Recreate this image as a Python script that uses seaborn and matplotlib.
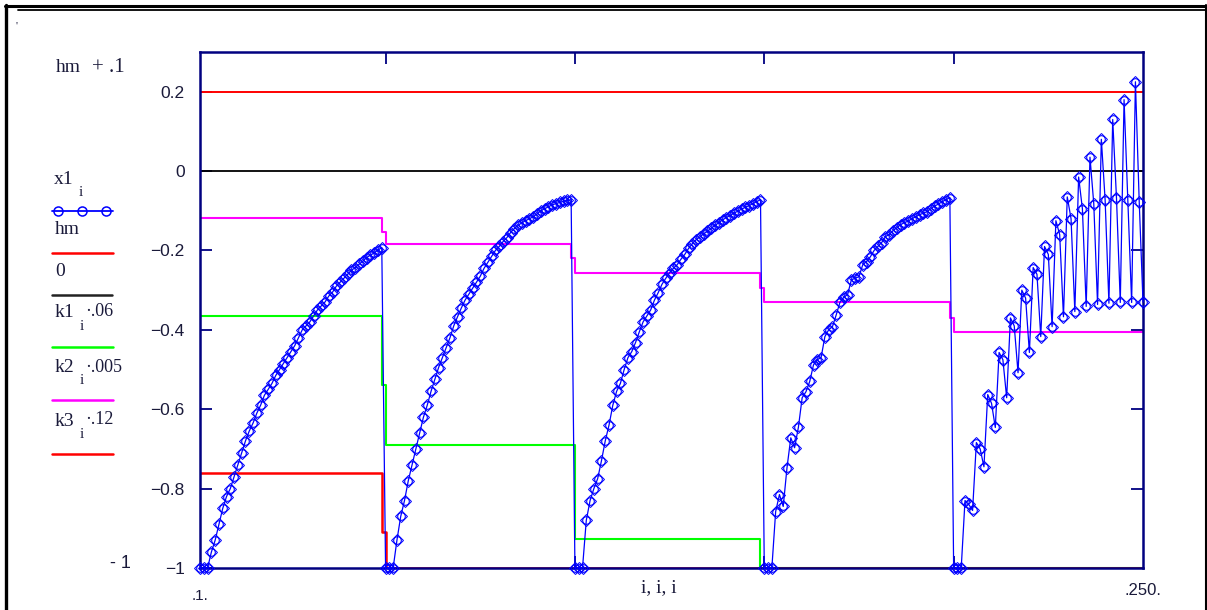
import numpy as np
import pandas as pd
import matplotlib
matplotlib.use("Agg")
import matplotlib.pyplot as plt
from matplotlib.lines import Line2D
import seaborn as sns

# ---------------- data ----------------
# x1_i, one value per i, segment by segment
x1_seg1 = [-1.0, -1.0, -1.0, -0.96, -0.93, -0.89, -0.85, -0.82, -0.80, -0.77,
           -0.74, -0.71, -0.68, -0.655, -0.635, -0.61, -0.59, -0.565, -0.55, -0.535,
           -0.515, -0.50, -0.485, -0.47, -0.455, -0.44, -0.42, -0.40, -0.39, -0.38,
           -0.365, -0.35, -0.34, -0.33, -0.315, -0.305, -0.29, -0.28, -0.27, -0.26,
           -0.25, -0.243, -0.235, -0.227, -0.218, -0.212, -0.206, -0.199, -0.193]
x1_seg2 = [-1.0, -1.0, -1.0, -0.93, -0.87, -0.83, -0.78, -0.74, -0.70, -0.66,
           -0.62, -0.59, -0.555, -0.525, -0.495, -0.47, -0.445, -0.42, -0.39, -0.367,
           -0.345, -0.325, -0.31, -0.295, -0.28, -0.265, -0.245, -0.23, -0.215, -0.20,
           -0.19, -0.178, -0.168, -0.155, -0.145, -0.137, -0.13, -0.125, -0.12, -0.115,
           -0.108, -0.10, -0.095, -0.09, -0.085, -0.082, -0.079, -0.076, -0.074, -0.072]
x1_seg3 = [-1.0, -1.0, -1.0, -0.88, -0.83, -0.80, -0.775, -0.73, -0.68, -0.64,
           -0.59, -0.555, -0.535, -0.50, -0.47, -0.455, -0.432, -0.405, -0.38, -0.365,
           -0.35, -0.325, -0.306, -0.285, -0.27, -0.256, -0.245, -0.236, -0.222, -0.21,
           -0.195, -0.183, -0.173, -0.166, -0.158, -0.152, -0.144, -0.137, -0.13, -0.123,
           -0.117, -0.112, -0.106, -0.101, -0.096, -0.091, -0.087, -0.082, -0.077, -0.072]
x1_seg4 = [-1.0, -1.0, -1.0, -0.858, -0.815, -0.845, -0.747, -0.672, -0.697, -0.646,
           -0.571, -0.556, -0.53, -0.488, -0.475, -0.47, -0.417, -0.40, -0.392, -0.362,
           -0.33, -0.318, -0.311, -0.274, -0.27, -0.266, -0.236, -0.228, -0.216, -0.20,
           -0.19, -0.18, -0.165, -0.16, -0.15, -0.143, -0.135, -0.13, -0.126, -0.12,
           -0.115, -0.11, -0.106, -0.102, -0.095, -0.088, -0.083, -0.077, -0.072, -0.067]
x1_seg5_start = [-1.0, -1.0, -1.0]
x1_seg5_upper = [-0.83, -0.684, -0.563, -0.457, -0.37, -0.30, -0.243, -0.19,
                 -0.125, -0.065, -0.015, 0.035, 0.08, 0.13, 0.18, 0.225]
x1_seg5_middle = [-0.84, -0.70, -0.585, -0.475, -0.39, -0.32, -0.26, -0.21,
                  -0.16, -0.12, -0.095, -0.082, -0.073, -0.068, -0.072, -0.077]
x1_seg5_lower = [-0.855, -0.745, -0.646, -0.571, -0.508, -0.457, -0.417, -0.392,
                 -0.367, -0.354, -0.341, -0.336, -0.333, -0.331, -0.331, -0.330]

hm_value = 0.2
zero_value = 0.0
# step functions: level per segment, and the single in-between value at each jump
k1_levels = [-0.365, -0.69, -0.928, -1.0, -1.0]
k1_jumps = [-0.54, -0.69, -1.0, -1.0]
k2_levels = [-0.117, -0.184, -0.256, -0.329, -0.405]
k2_jumps = [-0.153, -0.22, -0.294, -0.369]
k3_levels = [-0.76, -1.0, -1.0, -1.0, -1.0]
k3_jumps = [-0.91, -1.0, -1.0, -1.0]
step_counts = [48, 49, 49, 49, 51]

y_ticks = [0.2, 0.0, -0.2, -0.4, -0.6, -0.8, -1.0]
y_tick_labels = ["0.2", "0", "\u22120.2", "\u22120.4", "\u22120.6", "\u22120.8", "\u22121"]
x_ticks = [50, 100, 150, 200]
i_first, i_last = 1, 250

# ---------------- build series ----------------
seg5 = list(x1_seg5_start)
for u, m, l in zip(x1_seg5_upper, x1_seg5_middle, x1_seg5_lower):
    seg5 += [u, m, l]
x1 = np.array(x1_seg1 + x1_seg2 + x1_seg3 + x1_seg4 + seg5)
i_vals = np.arange(i_first, i_first + len(x1))


def build_steps(levels, jumps):
    out = []
    for s, n in enumerate(step_counts):
        out += [levels[s]] * n
        if s < len(jumps):
            out.append(jumps[s])
    return np.array(out)


k1 = build_steps(k1_levels, k1_jumps)
k2 = build_steps(k2_levels, k2_jumps)
k3 = build_steps(k3_levels, k3_jumps)
df = pd.DataFrame({"i": i_vals, "x1": x1, "hm": hm_value, "zero": zero_value,
                   "k1": k1, "k2": k2, "k3": k3})

# ---------------- figure ----------------
sns.set_style("white")
plt.rcParams["font.family"] = ["Liberation Serif", "DejaVu Serif"]
W, H = 1207, 610
fig = plt.figure(figsize=(W / 100, H / 100), dpi=100)
fig.patch.set_facecolor("white")
L, R, T, B = 200, 1143, 52, 568
ax = fig.add_axes([L / W, 1 - B / H, (R - L) / W, (B - T) / H])
ax.set_facecolor("white")

BLUE = "#0000FF"
NAVY = "#000080"
RED = "#FF0000"
GREEN = "#00FF00"
MAG = "#FF00FF"
TXT = "#1a1a3a"

sns.lineplot(data=df, x="i", y="hm", ax=ax, color=RED, lw=1.4, estimator=None, sort=False)
sns.lineplot(data=df, x="i", y="zero", ax=ax, color="black", lw=1.3, estimator=None, sort=False)
sns.lineplot(data=df, x="i", y="k1", ax=ax, color=GREEN, lw=1.5, drawstyle="steps-post",
             estimator=None, sort=False)
sns.lineplot(data=df, x="i", y="k2", ax=ax, color=MAG, lw=1.5, drawstyle="steps-post",
             estimator=None, sort=False)
sns.lineplot(data=df, x="i", y="k3", ax=ax, color=RED, lw=1.8, drawstyle="steps-post",
             estimator=None, sort=False)
sns.lineplot(data=df, x="i", y="x1", ax=ax, color=BLUE, lw=0.9, estimator=None, sort=False,
             marker="o", markersize=5.5, markerfacecolor="none", markeredgecolor=BLUE,
             markeredgewidth=0.8, clip_on=False, zorder=3)
sns.lineplot(data=df, x="i", y="x1", ax=ax, color=BLUE, lw=0, estimator=None, sort=False,
             marker="D", markersize=6, markerfacecolor="none", markeredgecolor=BLUE,
             markeredgewidth=0.7, clip_on=False, zorder=3)

ax.set_xlim(i_first, i_last)
ax.set_ylim(-1.0, 0.3)
ax.set_xlabel("")
ax.set_ylabel("")
for sp in ax.spines.values():
    sp.set_visible(True)
    sp.set_color(NAVY)
    sp.set_linewidth(1.8)
    sp.set_zorder(2.6)

ax.set_yticks(y_ticks)
ax.set_yticklabels(y_tick_labels, family=["Liberation Sans", "DejaVu Sans"], fontsize=12.5,
                   color=TXT)
ax.set_xticks(x_ticks)
ax.set_xticklabels([])
ax.tick_params(axis="both", direction="in", length=8.5, width=1.3, color=NAVY,
               left=True, right=True, top=True, bottom=True)
ax.tick_params(axis="y", pad=11)
ax.grid(False)

xt = ax.get_xaxis_transform()
ax.text(i_first, -0.04, ".1.", transform=xt, ha="center", va="top", fontsize=11,
        color=TXT, family=["Liberation Sans", "DejaVu Sans"])
ax.text(i_last, -0.03, ".250.", transform=xt, ha="center", va="top", fontsize=12,
        color=TXT, family=["Liberation Sans", "DejaVu Sans"])
ax.text(0.487, -0.022, "i, i, i", transform=ax.transAxes, ha="center", va="top",
        fontsize=14, color=TXT)


def fx(x):
    return x / W


def fy(y):
    return 1 - y / H


def ftext(x, y, s, size=14, **kw):
    fig.text(fx(x), fy(y), s, fontsize=size, color=TXT, va="center", ha="left", **kw)


def fline(x0, x1_, y, color, lw=1.8, **kw):
    fig.add_artist(Line2D([fx(x0), fx(x1_)], [fy(y), fy(y)], color=color, lw=lw,
                          transform=fig.transFigure, **kw))


# y-axis expression labels (Mathcad style legend)
ftext(56, 67, "hm")
ftext(92, 68, "+ .1", size=15)
ftext(16, 26, "'", size=8)

ftext(54, 180, "x1")
ftext(79, 192, "i", size=11)
fline(52, 113, 211, BLUE, lw=1.3)
for mx in (58, 82, 106):
    fig.add_artist(Line2D([fx(mx)], [fy(211)], marker="o", markersize=6.5, markerfacecolor="none",
                          markeredgecolor=BLUE, markeredgewidth=1.1, transform=fig.transFigure))

ftext(55, 230, "hm")
fline(52, 113, 253, RED)
ftext(55, 271, "0")
fline(52, 112, 295, "#222222")

ftext(55, 313, "k1")
ftext(80, 326, "i", size=11)
ftext(85, 312, "\u00b7.06", size=13)
fline(52, 113, 347, GREEN)

ftext(55, 368, "k2")
ftext(80, 381, "i", size=11)
ftext(85, 367, "\u00b7.005", size=13)
fline(52, 113, 400, MAG)

ftext(55, 421, "k3")
ftext(80, 434, "i", size=11)
ftext(85, 420, "\u00b7.12", size=13)
fline(52, 113, 454, RED)

ftext(110, 564, "- 1", size=13, family=["Liberation Sans", "DejaVu Sans"])

# outer frame
fig.add_artist(Line2D([fx(5), fx(1207)], [fy(6.2), fy(6.2)], color="black", lw=2.2,
                      transform=fig.transFigure))
fig.add_artist(Line2D([fx(18), fx(1205)], [fy(10), fy(10)], color="black", lw=1.3,
                      transform=fig.transFigure))
fig.add_artist(Line2D([fx(6.3), fx(6.3)], [fy(5), fy(610)], color="black", lw=2.4,
                      transform=fig.transFigure))
fig.add_artist(Line2D([fx(1205.5), fx(1205.5)], [fy(5), fy(610)], color="black", lw=1.5,
                      transform=fig.transFigure))

fig.savefig("out.png", dpi=100, facecolor="white")
